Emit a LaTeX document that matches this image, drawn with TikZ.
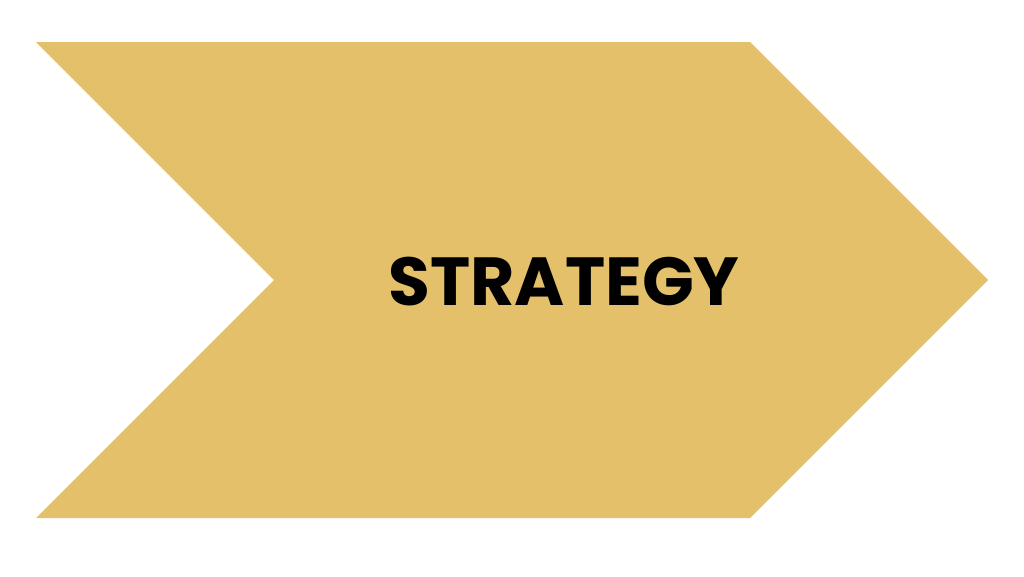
\documentclass[tikz,border=0pt]{standalone}
\usepackage{fontspec}
\setmainfont{Poppins}
\definecolor{chevgold}{HTML}{E4C06A}
\begin{document}
\begin{tikzpicture}[x=1pt,y=-1pt,
  chev/.style={fill=chevgold,draw=none},
  label/.style={font=\fontsize{68}{68}\selectfont\bfseries,text=black,inner sep=0pt,anchor=base}]
\useasboundingbox (0,0) rectangle (1024,576);
\fill[white] (0,0) rectangle (1024,576);
\path[chev] (36,42) -- (750,42) -- (988,280) -- (750,518) -- (36,518) -- (274,280) -- cycle;
\node[label] (t) at (564,305) {STRATEGY};
\end{tikzpicture}
\end{document}
